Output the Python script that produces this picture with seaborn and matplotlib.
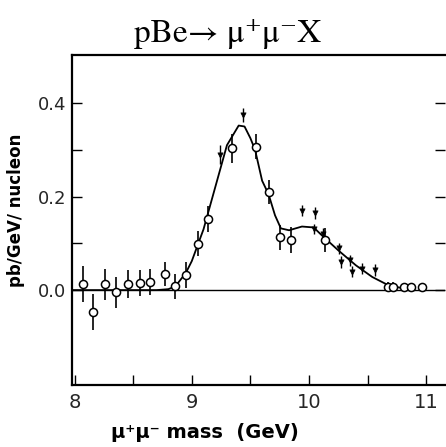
import matplotlib
matplotlib.use("Agg")
import matplotlib.pyplot as plt
import seaborn as sns
import pandas as pd
from matplotlib.ticker import FixedLocator

# ---- data ----
circ_x = [8.07, 8.16, 8.26, 8.35, 8.46, 8.56, 8.64, 8.77, 8.86, 8.95, 9.05, 9.14,
          9.34, 9.545, 9.655, 9.755, 9.85, 10.14, 10.67, 10.72, 10.81, 10.87, 10.96]
circ_y = [0.013, -0.047, 0.012, -0.005, 0.014, 0.016, 0.017, 0.034, 0.008, 0.033, 0.099, 0.152,
          0.303, 0.307, 0.21, 0.113, 0.107, 0.107, 0.007, 0.007, 0.007, 0.007, 0.007]
circ_err = [0.039, 0.039, 0.034, 0.034, 0.03, 0.028, 0.028, 0.026, 0.027, 0.028, 0.027, 0.027,
            0.032, 0.027, 0.025, 0.027, 0.028, 0.025, 0.01, 0.01, 0.008, 0.008, 0.008]

tri_x = [9.24, 9.44, 9.94, 10.05, 10.04, 10.12, 10.26, 10.27, 10.35, 10.37, 10.45, 10.56]
tri_y = [0.29, 0.375, 0.17, 0.165, 0.131, 0.12, 0.089, 0.06, 0.064, 0.039, 0.046, 0.043]
tri_err = [0.02, 0.015, 0.012, 0.012, 0.01, 0.012, 0.012, 0.012, 0.012, 0.012, 0.012, 0.012]

fit_x = [7.97, 8.5, 8.7, 8.8, 8.86, 8.95, 9.0, 9.1, 9.2, 9.3, 9.4, 9.45, 9.5, 9.54, 9.6,
         9.655, 9.71, 9.76, 9.83, 9.94, 10.04, 10.11, 10.25, 10.4, 10.54, 10.68, 10.82, 10.9]
fit_y = [0.0, 0.0, 0.0, 0.002, 0.008, 0.037, 0.062, 0.13, 0.22, 0.31, 0.352, 0.35, 0.325, 0.30, 0.234,
         0.205, 0.16, 0.132, 0.128, 0.136, 0.134, 0.117, 0.085, 0.053, 0.028, 0.01, 0.003, 0.0]

y_major = [0.0, 0.2, 0.4]
y_major_labels = ["0.0", "0.2", "0.4"]
y_minor = [0.1, 0.3]
x_major = [8, 9, 10, 11]
x_major_labels = ["8", "9", "10", "11"]
x_minor = [8.5, 9.5, 10.5]

sns.set_theme(style="white")
plt.rcParams["font.family"] = ["DejaVu Sans"]
plt.rcParams["mathtext.fontset"] = "stix"

fig = plt.figure(figsize=(4.46, 4.47), dpi=100)
ax = fig.add_axes([71.5 / 446, (447 - 385) / 447, (445 - 71.5) / 446, (385 - 54.5) / 447])

ax.axhline(0.0, color="black", lw=1.0, zorder=1)

fit_df = pd.DataFrame({"x": fit_x, "y": fit_y})
sns.lineplot(data=fit_df, x="x", y="y", ax=ax, color="black", lw=1.3, sort=False, zorder=2)

ax.errorbar(circ_x, circ_y, yerr=circ_err, fmt="none", ecolor="black", elinewidth=1.2, zorder=3)
ax.errorbar(tri_x, tri_y, yerr=tri_err, fmt="none", ecolor="black", elinewidth=1.0, zorder=3)

circ_df = pd.DataFrame({"x": circ_x, "y": circ_y})
sns.scatterplot(data=circ_df, x="x", y="y", ax=ax, marker="o", s=34,
                facecolor="white", edgecolor="black", linewidth=1.1, zorder=4)
tri_df = pd.DataFrame({"x": tri_x, "y": tri_y})
sns.scatterplot(data=tri_df, x="x", y="y", ax=ax, marker="v", s=14,
                color="black", edgecolor="black", linewidth=0.5, zorder=4)

ax.set_xlim(7.974, 11.16)
ax.set_ylim(-0.203, 0.504)

ax.xaxis.set_major_locator(FixedLocator(x_major))
ax.set_xticklabels(x_major_labels)
ax.xaxis.set_minor_locator(FixedLocator(x_minor))
ax.yaxis.set_major_locator(FixedLocator(y_major))
ax.set_yticklabels(y_major_labels)
ax.yaxis.set_minor_locator(FixedLocator(y_minor))

ax.tick_params(axis="both", which="both", direction="in", color="black", width=1.0,
               length=7, left=True, bottom=True, right=True, top=False)
ax.tick_params(axis="x", which="major", labelsize=14, pad=6)
ax.tick_params(axis="y", which="major", labelsize=13, pad=4)

for side in ["left", "bottom", "top"]:
    ax.spines[side].set_visible(True)
    ax.spines[side].set_color("black")
    ax.spines[side].set_linewidth(1.6)
ax.spines["right"].set_visible(False)

ax.set_xlabel("")
ax.set_ylabel("pb/GeV/ nucleon", fontsize=12, fontweight="bold", color="black")
ax.yaxis.set_label_coords(-0.125, 0.53)

fig.text(228 / 446, (447 - 42) / 447, "pBe\u2192 \u03bc\u207a\u03bc\u207bX",
         family=["STIXGeneral", "DejaVu Serif"], fontsize=24, ha="center", va="baseline",
         color="black")
fig.text(205 / 446, (447 - 438) / 447, "\u03bc\u207a\u03bc\u207b mass  (GeV)",
         fontsize=14, fontweight="bold", ha="center", va="baseline", color="black")

fig.savefig("out.png", dpi=100, facecolor="white")
